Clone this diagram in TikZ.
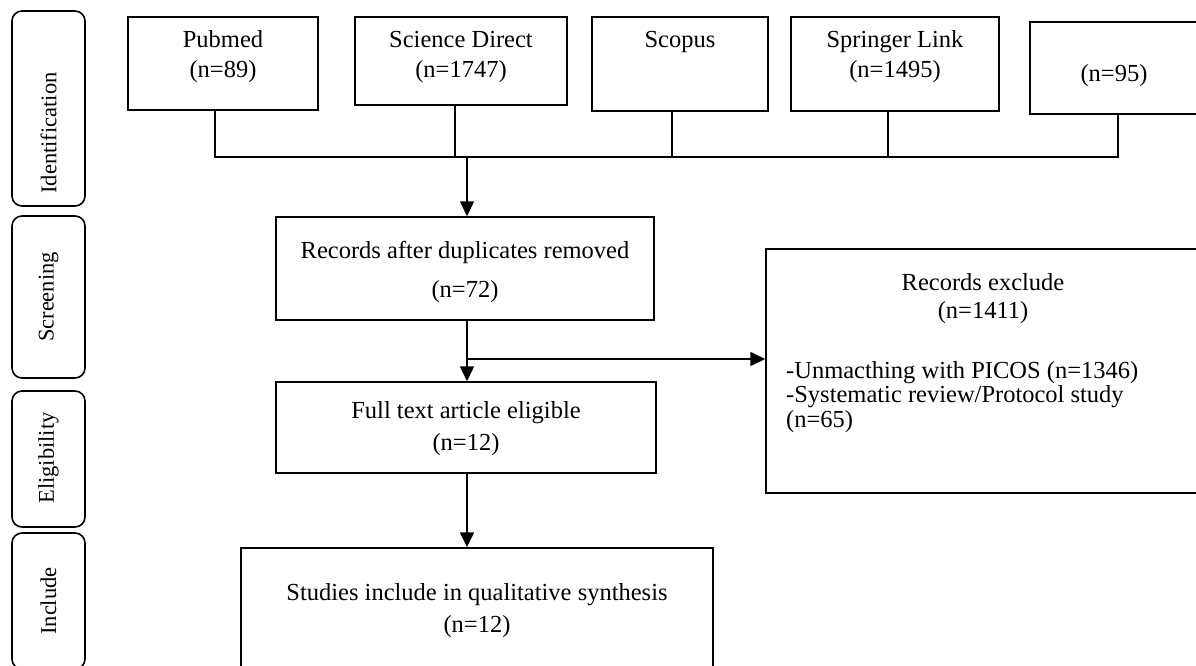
\documentclass[tikz,border=0pt]{standalone}
\usepackage{fontspec}
\setmainfont{Liberation Serif}
\usetikzlibrary{arrows.meta}
\tikzset{
  box/.style={draw=black, line width=1.5pt, rectangle, inner sep=0pt},
  side/.style={draw=black, line width=1.6pt, rectangle, rounded corners=10pt, inner sep=0pt, minimum width=73pt},
  lbl/.style={align=center, inner sep=0pt, font=\fontsize{24.5}{30}\selectfont},
  sidelbl/.style={rotate=90, inner sep=0pt, font=\fontsize{22.5}{26}\selectfont},
  conn/.style={draw=black, line width=1.6pt},
  arr/.style={conn, -{Triangle[length=15pt,width=14pt]}}
}
\begin{document}
\begin{tikzpicture}[x=1pt,y=-1pt]
\useasboundingbox (0,0) rectangle (1196,666);
\clip (0,0) rectangle (1196,666);
\fill[white] (0,0) rectangle (1196,666);

% side stage boxes
\node[side, minimum height=195pt] (sid) at (48.5,108.5) {};
\node[sidelbl] (tid) at (48.5,133) {Identification};
\node[side, minimum height=162pt] (sscr) at (48.5,297) {};
\node[sidelbl] (tscr) at (48.5,297) {Screening};
\node[side, minimum height=136pt] (seli) at (48.5,459) {};
\node[sidelbl] (teli) at (48.5,458) {Eligibility};
\node[side, minimum height=136pt] (sinc) at (48.5,601) {};
\node[sidelbl] (tinc) at (48.5,601) {Include};

% top database boxes
\node[box, minimum width=190pt, minimum height=93pt] (pub) at (223,63.5) {};
\node[lbl] (tpub) at (223,57) {Pubmed\\(n=89)};
\node[box, minimum width=212pt, minimum height=88pt] (sd) at (461,61) {};
\node[lbl] (tsd) at (461,57) {Science Direct\\(n=1747)};
\node[box, minimum width=176pt, minimum height=94pt] (sco) at (680,64) {};
\node[lbl] (tsco) at (680,42) {Scopus};
\node[box, minimum width=208pt, minimum height=94pt] (spr) at (895,64) {};
\node[lbl] (tspr) at (895,57) {Springer Link\\(n=1495)};
\node[box, minimum width=180pt, minimum height=92pt] (n95) at (1120,68) {};
\node[lbl] (tn95) at (1114,76) {(n=95)};

% process boxes
\node[box, minimum width=378pt, minimum height=103pt] (rec) at (465,268.5) {};
\node[lbl, font=\fontsize{24.5}{39}\selectfont] (trec) at (465,271.5) {Records after duplicates removed\\(n=72)};
\node[box, minimum width=380pt, minimum height=91pt] (full) at (466,427.5) {};
\node[lbl, font=\fontsize{24.5}{32}\selectfont] (tfull) at (466,429) {Full text article eligible\\(n=12)};
\node[box, minimum width=472pt, minimum height=152pt] (stud) at (477,624) {};
\node[lbl, font=\fontsize{24.5}{32}\selectfont] (tstud) at (477,611) {Studies include in qualitative synthesis\\(n=12)};
\node[box, minimum width=434pt, minimum height=244pt] (excl) at (983,371) {};
\node[lbl, font=\fontsize{24.5}{28}\selectfont] (texcl) at (983,299) {Records exclude\\(n=1411)};
\node[lbl, align=left, anchor=west, font=\fontsize{24.5}{24.5}\selectfont] (tlist) at (786,397) {-Unmacthing with PICOS (n=1346)\\-Systematic review/Protocol study\\(n=65)};

% connectors
\coordinate (bus) at (467,157);
\coordinate (br) at (467,359);
\draw[conn] ([xshift=-8pt]pub.south) |- (bus) -| ([xshift=-2pt]n95.south);
\draw[conn] ([xshift=-6pt]sd.south) -- ([xshift=-6pt]sd.south |- bus);
\draw[conn] ([xshift=-8pt]sco.south) -- ([xshift=-8pt]sco.south |- bus);
\draw[conn] ([xshift=-7pt]spr.south) -- ([xshift=-7pt]spr.south |- bus);
\draw[arr] (bus) -- (bus |- rec.north);
\draw[arr] (rec.south -| bus) -- (full.north -| bus);
\draw[arr] (br) -- (br -| excl.west);
\draw[arr] (full.south -| bus) -- (stud.north -| bus);
\end{tikzpicture}
\end{document}
